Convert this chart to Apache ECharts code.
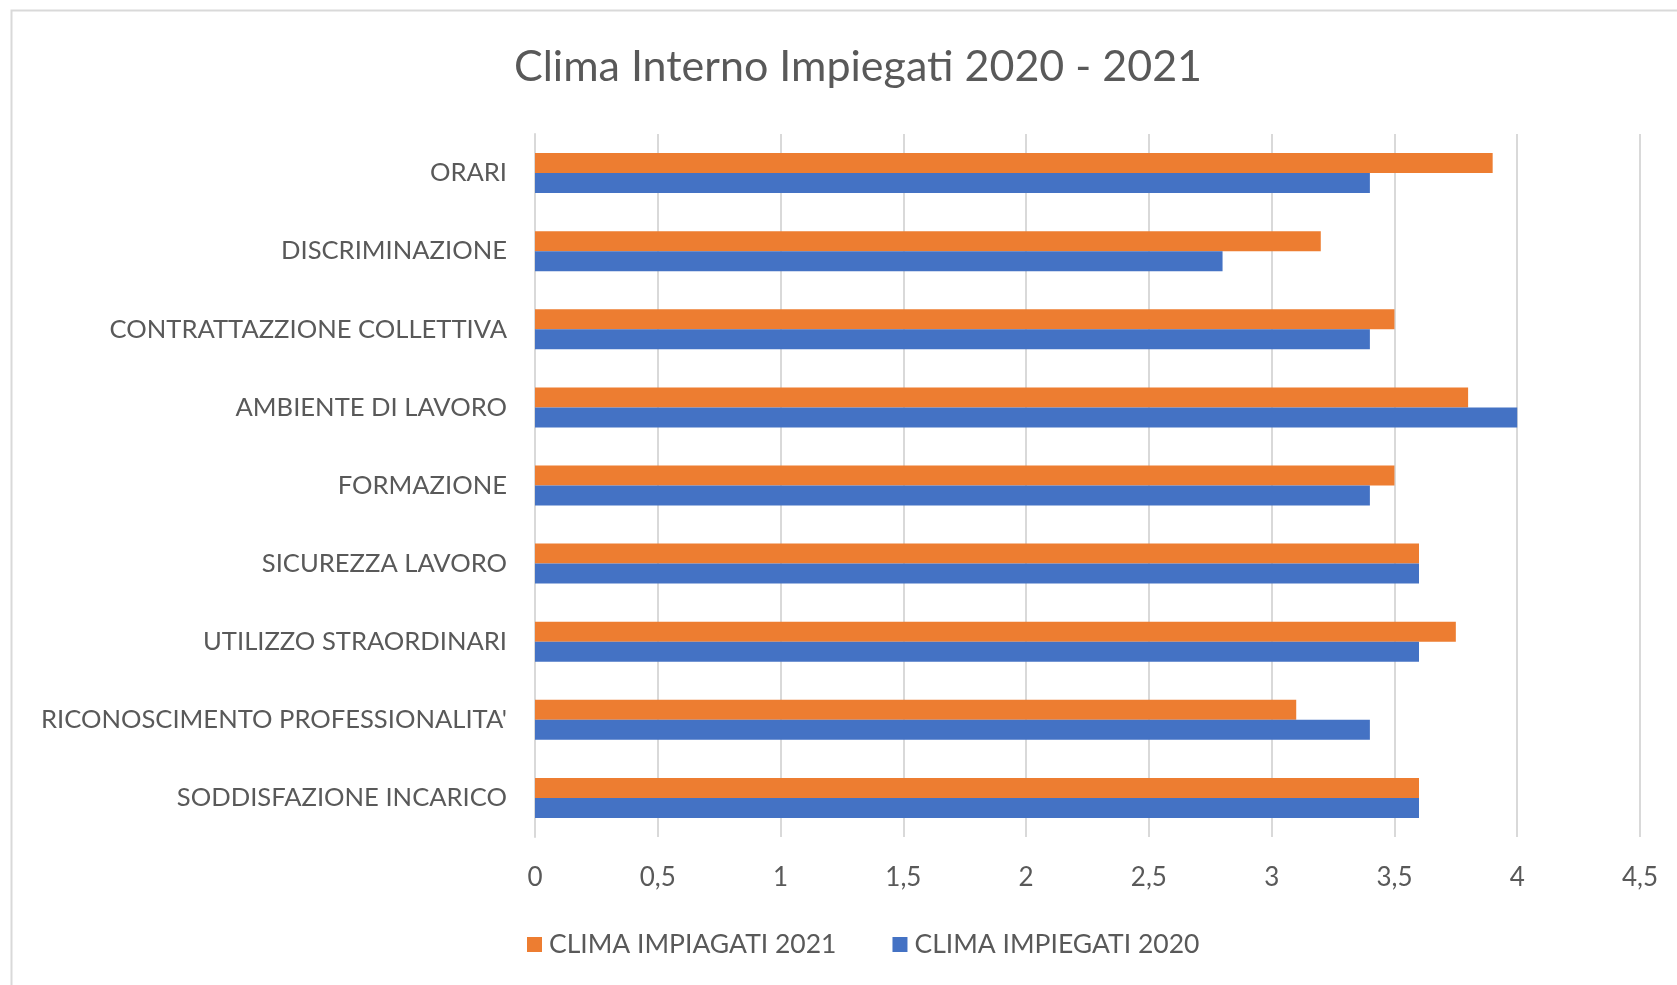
<!DOCTYPE html>
<html><head><meta charset="utf-8">
<script src="https://cdn.jsdelivr.net/npm/echarts@6/dist/echarts.min.js"></script>
<style>html,body{margin:0;padding:0;background:#fff;}#c{width:1677px;height:985px;}</style>
</head><body><div id="c"></div>
<script>
// categories bottom-to-top (ECharts category y axis starts at bottom)
const categories = ["SODDISFAZIONE INCARICO","RICONOSCIMENTO PROFESSIONALITA'","UTILIZZO STRAORDINARI","SICUREZZA LAVORO","FORMAZIONE","AMBIENTE DI LAVORO","CONTRATTAZZIONE COLLETTIVA","DISCRIMINAZIONE","ORARI"];
const clima2020 = [3.6, 3.4, 3.6, 3.6, 3.4, 4.0, 3.4, 2.8, 3.4];
const clima2021 = [3.6, 3.1, 3.75, 3.6, 3.5, 3.8, 3.5, 3.2, 3.9];
const seriesNames = ["CLIMA IMPIAGATI 2021", "CLIMA IMPIEGATI 2020"];
const legendOrder = ["CLIMA IMPIAGATI 2021", "CLIMA IMPIEGATI 2020"];
const titleText = "Clima Interno Impiegati 2020 - 2021";

const FONT = "Lato";
const TXT = "#595959";
const chart = echarts.init(document.getElementById('c'), null, {renderer:'canvas'});
chart.setOption({
  backgroundColor: '#fff',
  animation: false,
  title: {text: titleText, left: 853, textAlign: 'center', top: 41, textStyle: {fontFamily: FONT, fontSize: 43, fontWeight: 'normal', color: TXT}},
  graphic: [{type:'rect', left: 9, top: 8, shape:{width: 1720, height: 1020}, style:{fill:'none', stroke:'#d9d9d9', lineWidth:2}, z:-1}],
  legend: {data: legendOrder, left: 522, top: 926, itemWidth: 15, itemHeight: 15, itemGap: 56, icon: 'rect',
    textStyle: {fontFamily: FONT, fontSize: 26.5, color: TXT, padding:[0,0,0,2]}},
  grid: {left: 535, right: 37, top: 134, bottom: 148, containLabel: false},
  xAxis: {type: 'value', min: 0, max: 4.5, interval: 0.5,
    axisLabel: {fontFamily: FONT, fontSize: 26, color: TXT, margin: 28, formatter: v => String(v).replace('.', ',')},
    axisLine: {show: false}, axisTick: {show: false},
    splitLine: {lineStyle: {color: '#d9d9d9', width: 2}}},
  yAxis: {type: 'category', data: categories,
    axisLabel: {fontFamily: FONT, fontSize: 25.6, color: TXT, margin: 28},
    axisLine: {lineStyle: {color: '#d9d9d9', width: 2}}, axisTick: {show: false}},
  series: [
    {name: seriesNames[0], type: 'bar', data: clima2021, barWidth: 20, barGap: '0%', itemStyle: {color: '#ED7D31'}},
    {name: seriesNames[1], type: 'bar', data: clima2020, barWidth: 20, barGap: '0%', itemStyle: {color: '#4472C4'}}
  ]
});
</script></body></html>
